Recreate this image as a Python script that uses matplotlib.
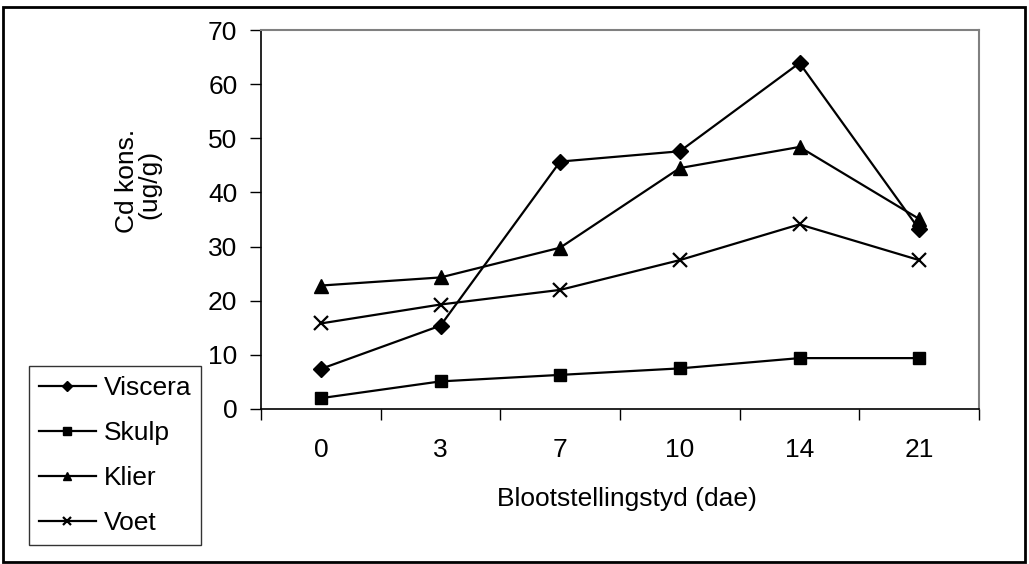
import matplotlib
matplotlib.use("Agg")
import matplotlib.pyplot as plt
from matplotlib.patches import Rectangle
import numpy as np

plt.rcParams['font.family'] = ['Liberation Sans', 'DejaVu Sans']

days = ['0', '3', '7', '10', '14', '21']
viscera = [7.4, 15.4, 45.7, 47.6, 63.9, 33.2]
skulp = [2.0, 5.1, 6.3, 7.5, 9.4, 9.4]
klier = [22.8, 24.3, 29.8, 44.5, 48.4, 35.1]
voet = [15.8, 19.3, 22.0, 27.5, 34.1, 27.5]

fig = plt.figure(figsize=(10.29, 5.64), dpi=100)
ax = fig.add_axes([261 / 1029, 1 - 409 / 564, (979 - 261) / 1029, (409 - 30) / 564])

x = np.arange(len(days))
ax.plot(x, viscera, color='black', lw=1.6, marker='D', ms=8, label='Viscera')
ax.plot(x, skulp, color='black', lw=1.6, marker='s', ms=9, label='Skulp')
ax.plot(x, klier, color='black', lw=1.6, marker='^', ms=10, label='Klier')
ax.plot(x, voet, color='black', lw=1.6, marker='x', ms=10, mew=1.6, label='Voet')

ax.set_xlim(-0.5, len(days) - 0.5)
ax.set_ylim(0, 70)
ax.set_yticks(range(0, 71, 10))
ax.tick_params(axis='y', direction='out', length=8, width=1, labelsize=19, pad=9)

ax.set_xticks(x)
ax.set_xticklabels(days)
ax.tick_params(axis='x', which='major', length=0, labelsize=19, pad=21)
ax.set_xticks(np.arange(-0.5, len(days), 1), minor=True)
ax.tick_params(axis='x', which='minor', direction='out', length=8, width=1)

for side in ['top', 'right']:
    ax.spines[side].set_color('#808080')
    ax.spines[side].set_linewidth(1.5)
for side in ['left', 'bottom']:
    ax.spines[side].set_color('black')
    ax.spines[side].set_linewidth(1.2)

ax.set_xlabel('Blootstellingstyd (dae)', fontsize=19)
ax.xaxis.set_label_coords(0.51, -0.205)

fig.text(126.5 / 1029, 1 - 181 / 564, 'Cd kons.', rotation=90,
         fontsize=19, ha='center', va='center')
fig.text(149.5 / 1029, 1 - 184 / 564, '(ug/g)', rotation=90,
         fontsize=19, ha='center', va='center')

leg = fig.legend(loc='upper left', bbox_to_anchor=(29 / 1029, 1 - 366 / 564),
                 fontsize=19, frameon=True, fancybox=False, edgecolor='black',
                 markerscale=0.6, handlelength=2.15, handletextpad=0.3,
                 labelspacing=0.8, borderpad=0.38, borderaxespad=0)
leg.get_frame().set_linewidth(1.0)

fig.patches.append(Rectangle((3 / 1029, 2 / 564), 1022 / 1029, 555 / 564,
                             transform=fig.transFigure, fill=False,
                             edgecolor='black', lw=2))

fig.savefig('out.png', dpi=100)
